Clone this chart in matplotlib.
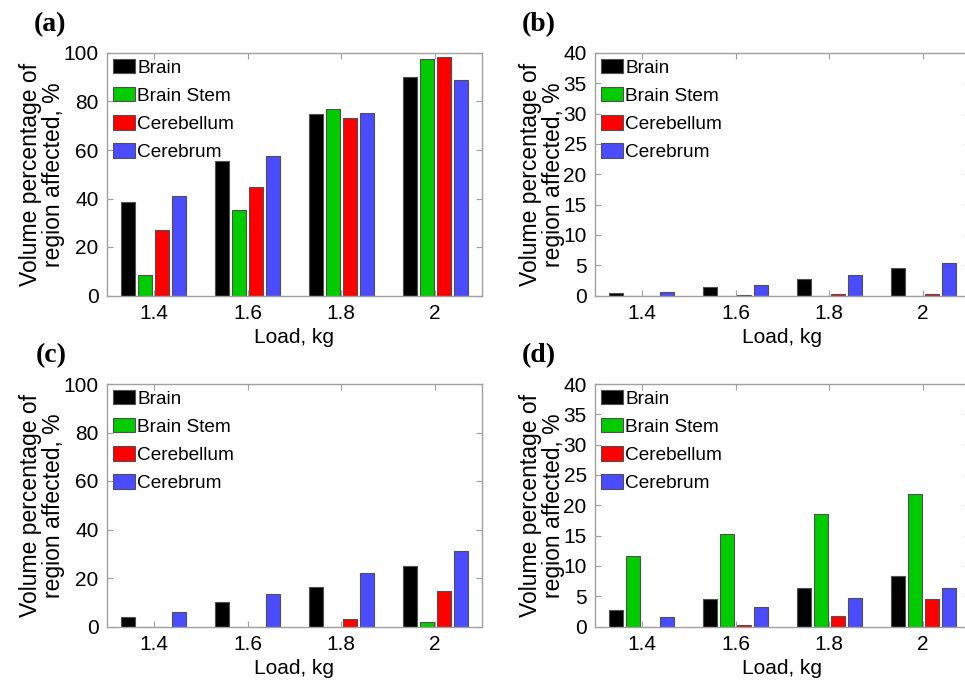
import numpy as np
import matplotlib
matplotlib.use("Agg")
import matplotlib.pyplot as plt

loads = [1.4, 1.6, 1.8, 2.0]
load_labels = ["1.4", "1.6", "1.8", "2"]
regions = ["Brain", "Brain Stem", "Cerebellum", "Cerebrum"]
colors = ["#000000", "#00cc00", "#ff0000", "#4b4bff"]

# panel (a)
a_brain = [38.5, 55.5, 74.8, 90.0]
a_stem = [8.5, 35.3, 76.8, 97.5]
a_cblm = [27.0, 44.6, 73.3, 98.4]
a_cbrm = [41.2, 57.5, 75.1, 88.7]

# panel (b)
b_brain = [0.4, 1.4, 2.8, 4.6]
b_stem = [0.0, 0.0, 0.0, 0.0]
b_cblm = [0.0, 0.1, 0.2, 0.25]
b_cbrm = [0.5, 1.7, 3.3, 5.4]

# panel (c)
c_brain = [4.1, 9.9, 16.4, 25.1]
c_stem = [0.0, 0.0, 0.0, 2.0]
c_cblm = [0.0, 0.0, 3.1, 14.5]
c_cbrm = [6.0, 13.5, 22.1, 31.2]

# panel (d)
d_brain = [2.8, 4.5, 6.3, 8.3]
d_stem = [11.6, 15.3, 18.6, 21.8]
d_cblm = [0.0, 0.3, 1.7, 4.6]
d_cbrm = [1.6, 3.2, 4.7, 6.3]

panels = [
    ("(a)", [a_brain, a_stem, a_cblm, a_cbrm], 100, [0, 20, 40, 60, 80, 100]),
    ("(b)", [b_brain, b_stem, b_cblm, b_cbrm], 40, [0, 5, 10, 15, 20, 25, 30, 35, 40]),
    ("(c)", [c_brain, c_stem, c_cblm, c_cbrm], 100, [0, 20, 40, 60, 80, 100]),
    ("(d)", [d_brain, d_stem, d_cblm, d_cbrm], 40, [0, 5, 10, 15, 20, 25, 30, 35, 40]),
]

W, H = 965, 689
fig = plt.figure(figsize=(W / 100, H / 100), dpi=100)

# axes boxes in pixels: left, top, width, height
boxes = [(107, 53, 375, 242.5), (595, 53, 375, 242.5),
         (107, 384, 375, 242.5), (595, 384, 375, 242.5)]
letter_pos = [(34, 25), (522, 25), (36, 356), (522, 356)]

bar_w = 0.0298
step = 0.0362
offsets = [-1.5, -0.5, 0.5, 1.5]
spine_col = "#a0a0a0"

for (tag, series, ymax, yticks), (l, t, w, h), (lx, ly) in zip(panels, boxes, letter_pos):
    ax = fig.add_axes([l / W, 1 - (t + h) / H, w / W, h / H])
    x = np.array(loads)
    for vals, name, col, off in zip(series, regions, colors, offsets):
        ax.bar(x + off * step, vals, width=bar_w, color=col, edgecolor="#505050",
               linewidth=0.8, label=name)
    ax.set_xlim(1.3, 2.1)
    ax.set_ylim(0, ymax)
    ax.set_xticks(loads)
    ax.set_xticklabels(load_labels)
    ax.set_yticks(yticks)
    ax.tick_params(direction="in", top=True, right=True, length=4, width=0.8,
                   color=spine_col, labelsize=15, pad=6)
    for lab in ax.get_xticklabels() + ax.get_yticklabels():
        lab.set_fontfamily("Liberation Sans")
    for s in ax.spines.values():
        s.set_color(spine_col)
        s.set_linewidth(1.0)
    ax.set_xlabel("Load, kg", fontsize=15, family="Liberation Sans", labelpad=4)
    ax.set_ylabel("Volume percentage of\nregion affected, %", fontsize=16.5,
                  family="Liberation Sans", labelpad=-1, linespacing=1.0)
    ax.legend(loc="upper left", frameon=False, prop={"family": "Liberation Sans", "size": 13.7},
              handlelength=1.16, handleheight=0.8, handletextpad=0.12, labelspacing=0.54,
              borderaxespad=0.3, borderpad=0.0)
    fig.text(lx / W, 1 - ly / H, tag, fontsize=20, fontweight="bold",
             family="Liberation Serif", ha="left", va="center")

fig.savefig("out.png", dpi=100)
